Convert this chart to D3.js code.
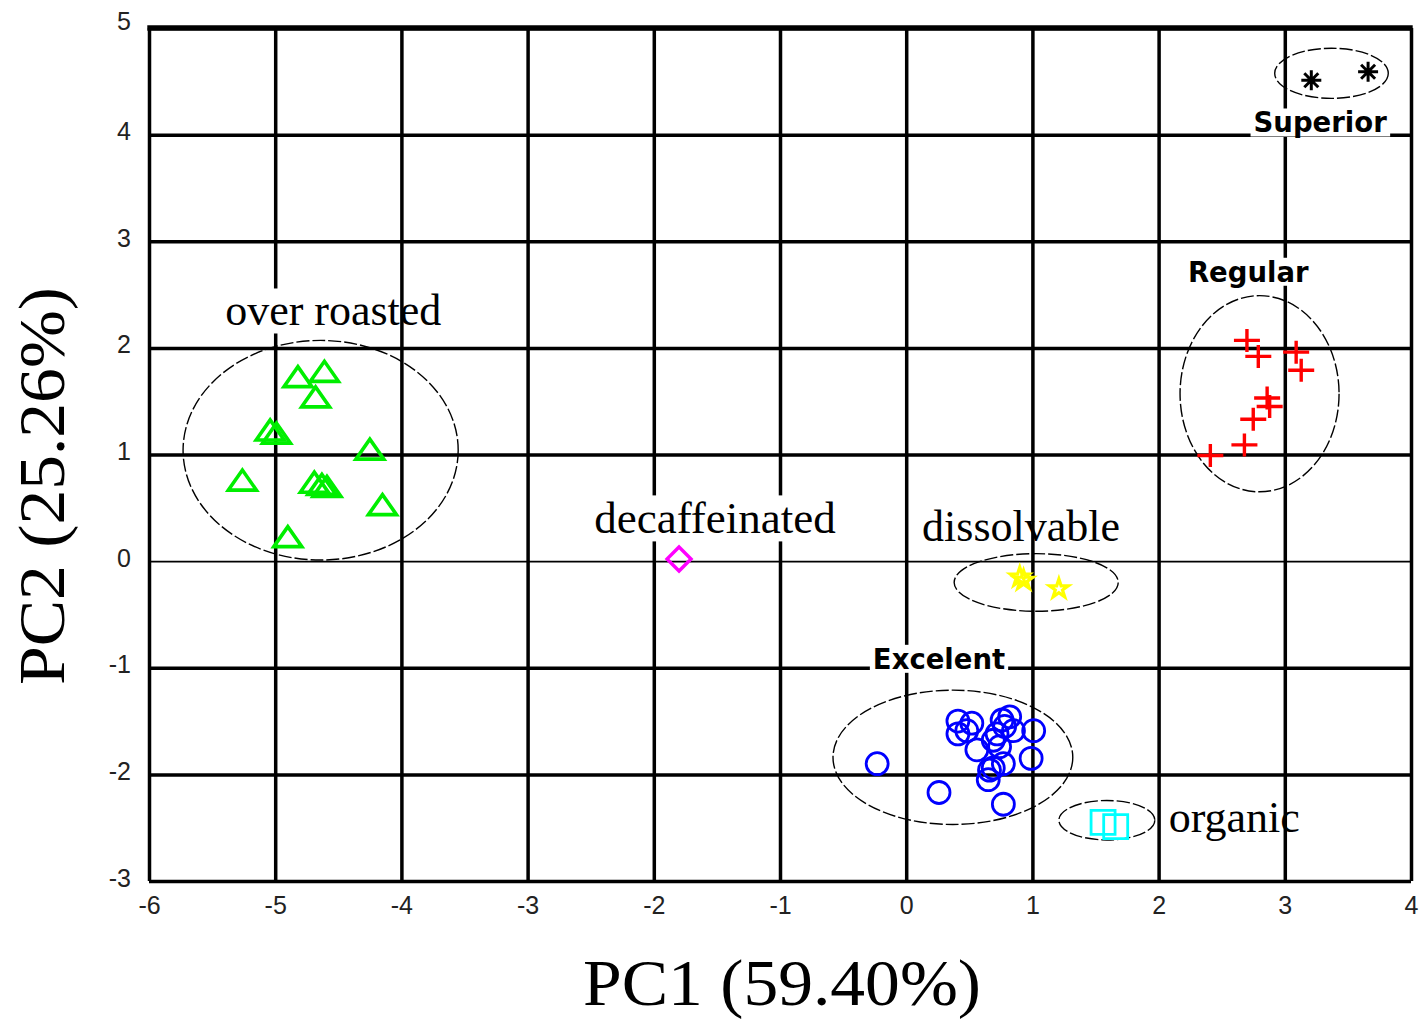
<!DOCTYPE html>
<html><head><meta charset="utf-8">
<script src="https://cdn.jsdelivr.net/npm/d3@7"></script>
<style>
html,body{margin:0;padding:0;background:#fff;}
svg{display:block;}
</style></head>
<body>
<svg id="chart" width="1422" height="1019"></svg>
<script>
// ---- data ----
const xTicks = [-6,-5,-4,-3,-2,-1,0,1,2,3,4];
const xTickLabels = ["-6","-5","-4","-3","-2","-1","0","1","2","3","4"];
const yTicks = [-3,-2,-1,0,1,2,3,4,5];
const yTickLabels = ["-3","-2","-1","0","1","2","3","4","5"];

const overRoasted = [[-4.82,1.73],[-4.61,1.78],[-4.68,1.54],[-5.04,1.23],[-4.99,1.20],[-4.25,1.05],
  [-5.26,0.76],[-4.69,0.74],[-4.59,0.70],[-4.63,0.72],[-4.15,0.53],[-4.90,0.23]];
const excelent = [[-0.23,-1.90],[0.26,-2.17],[0.77,-2.28],[0.41,-1.50],[0.52,-1.52],[0.41,-1.62],
  [0.48,-1.59],[0.56,-1.77],[0.76,-1.49],[0.82,-1.46],[0.78,-1.55],[0.72,-1.62],[0.85,-1.59],
  [1.01,-1.59],[0.69,-1.68],[0.77,-1.90],[0.69,-1.94],[0.99,-1.85],[0.65,-2.05],[0.66,-1.96],[0.74,-1.74]];
const organic = [[1.56,-2.45],[1.66,-2.49]];
const regular = [[2.70,2.07],[2.79,1.92],[3.09,1.96],[3.13,1.79],[2.86,1.53],[2.88,1.45],
  [2.75,1.33],[2.68,1.09],[2.41,0.99]];
const superior = [[3.21,4.51],[3.66,4.59]];
const dissolvable = [[0.90,-0.15],[0.93,-0.18],[1.21,-0.26]];
const decaffeinated = [[-1.80,0.02]];

// group ellipses: [cx, cy, rx, ry] in data units
const ellOverRoasted = [-4.64,1.04,1.09,1.03];
const ellExcelent = [0.37,-1.84,0.95,0.63];
const ellOrganic = [1.59,-2.43,0.38,0.185];
const ellRegular = [2.80,1.57,0.63,0.92];
const ellSuperior = [3.37,4.575,0.45,0.235];
const ellDissolvable = [1.03,-0.20,0.65,0.27];

// ---- layout ----
const svg = d3.select("#chart");
const L = 149, R = 1411, T = 28, B = 881;
const x = d3.scaleLinear().domain([-6,4]).range([L,R]);
const y = d3.scaleLinear().domain([-3,5]).range([B,T]);

// grid + axes
const gx = svg.append("g").attr("transform",`translate(0,${B})`)
  .call(d3.axisBottom(x).tickValues(xTicks).tickSize(-(B-T)).tickPadding(15)
    .tickFormat((d,i)=>xTickLabels[i]));
gx.select(".domain").remove();
gx.selectAll(".tick line").attr("stroke","#000").attr("stroke-width",3.5);
gx.selectAll(".tick text").attr("font-family","'Liberation Sans', Arial, sans-serif")
  .attr("font-size",25).attr("fill","#222");

const gy = svg.append("g").attr("transform",`translate(${L},0)`)
  .call(d3.axisLeft(y).tickValues(yTicks).tickSize(-(R-L)).tickPadding(18)
    .tickFormat((d,i)=>yTickLabels[i]));
gy.select(".domain").remove();
gy.selectAll(".tick line").attr("stroke","#000").attr("stroke-width",d=>d===0?1.6:3.5);
gy.selectAll(".tick text").attr("font-family","'Liberation Sans', Arial, sans-serif")
  .attr("font-size",25).attr("fill","#222").attr("dy",d=>d===5?"0.05em":"0.2em");
// thicker top border
svg.append("line").attr("x1",L-1.7).attr("x2",R+1.7).attr("y1",y(5)).attr("y2",y(5))
  .attr("stroke","#000").attr("stroke-width",5.5);

// ellipses
const plot = svg.append("g");
[ellOverRoasted,ellExcelent,ellOrganic,ellRegular,ellSuperior,ellDissolvable].forEach(e=>{
  plot.append("ellipse")
    .attr("cx",x(e[0])).attr("cy",y(e[1]))
    .attr("rx",x(e[0]+e[2])-x(e[0])).attr("ry",y(e[1])-y(e[1]+e[3]))
    .attr("fill","none").attr("stroke","#000").attr("stroke-width",1.4)
    .attr("stroke-dasharray","13 3");
});

// labels with optional white background
function label(txt, dx, dy, opts){
  const g = svg.append("g");
  const t = g.append("text").attr("x",x(dx)).attr("y",y(dy))
    .attr("text-anchor",opts.anchor||"middle")
    .attr("font-family",opts.family).attr("font-size",opts.size)
    .attr("font-weight",opts.weight||"normal").attr("fill","#000").text(txt);
  if(opts.bg){
    const bb = t.node().getBBox();
    const w = bb.width*(opts.bgFrac||1);
    g.insert("rect","text").attr("x",bb.x-3).attr("y",bb.y+2).attr("width",w+6)
      .attr("height",bb.height-4).attr("fill","#fff");
  }
}
const serif = "'Liberation Serif','Times New Roman',serif";
const bold = "'DejaVu Sans',sans-serif";
label("over roasted",-4.54,2.21,{family:serif,size:44,bg:true,bgFrac:0.72});
label("decaffeinated",-1.515,0.26,{family:serif,size:45,bg:true});
label("dissolvable",0.91,0.19,{family:serif,size:44});
label("organic",2.08,-2.54,{family:serif,size:44,anchor:"start"});
label("Excelent",0.26,-1.01,{family:bold,size:27.5,weight:"bold",bg:true});
label("Regular",2.71,2.62,{family:bold,size:27.5,weight:"bold",bg:true});
label("Superior",3.28,4.02,{family:bold,size:27.5,weight:"bold",bg:true});

// markers
function pts(data, path, color, sw){
  plot.append("g").selectAll("path").data(data).join("path")
    .attr("transform",d=>`translate(${x(d[0])},${y(d[1])})`)
    .attr("d",path).attr("fill","none").attr("stroke",color).attr("stroke-width",sw)
    .attr("stroke-linejoin","miter");
}
pts(overRoasted,"M-14,10L0,-10L14,10Z","#00ee00",3.6);
pts(excelent,"M11,0A11,11 0 1,1 -11,0A11,11 0 1,1 11,0Z","#0000ff",2.8);
pts(organic,"M-12,-12H12V12H-12Z","#00ffff",2.8);
pts(regular,"M-13,0H13M0,-11.5V11.5","#ff0000",3.4);
pts(superior,"M-10,0H10M0,-10V10M-7,-7L7,7M-7,7L7,-7","#000",3);
pts(dissolvable,d3.symbol().type(d3.symbolStar).size(110)(),"#ffff00",3.2);
pts(decaffeinated,"M0,-12L12,0L0,12L-12,0Z","#ff00ff",3.4);

// axis titles
svg.append("text").attr("x",782).attr("y",1005).attr("text-anchor","middle")
  .attr("font-family",serif).attr("font-size",65)
  .attr("textLength",398).attr("lengthAdjust","spacingAndGlyphs").text("PC1 (59.40%)");
svg.append("text").attr("transform",`translate(64,486) rotate(-90)`).attr("text-anchor","middle")
  .attr("font-family",serif).attr("font-size",65)
  .attr("textLength",398).attr("lengthAdjust","spacingAndGlyphs").text("PC2 (25.26%)");
</script>
</body></html>
